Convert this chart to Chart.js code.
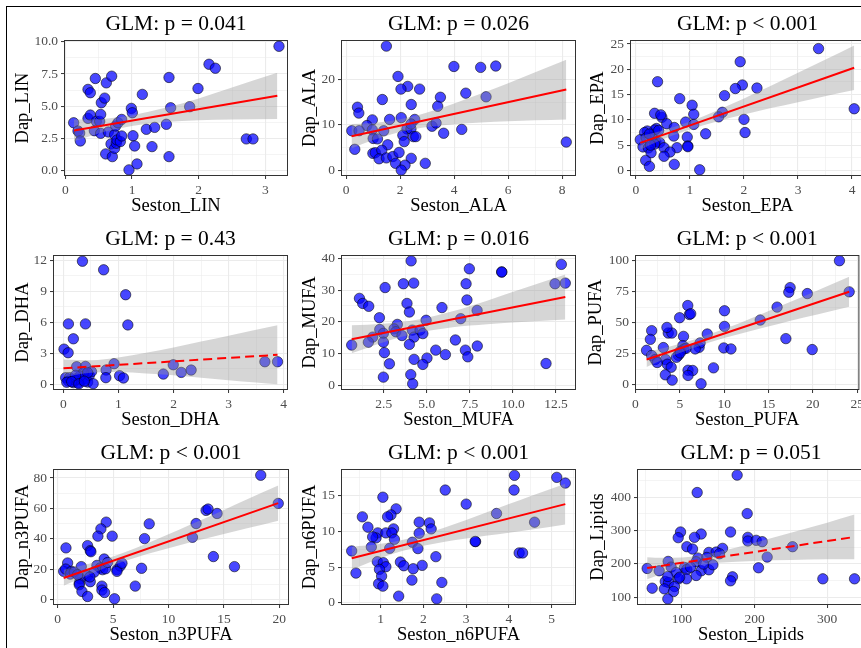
<!DOCTYPE html>
<html>
<head>
<meta charset="utf-8">
<script src="https://cdn.jsdelivr.net/npm/chart.js@4.4.0/dist/chart.umd.min.js"></script>
<style>
  html, body { margin: 0; padding: 0; background: #fff; overflow: hidden; }
  body { width: 861px; height: 648px; position: relative; }
  canvas { position: absolute; }
  #frame { position: absolute; left: 6px; top: 6px; width: 900px; height: 700px;
           border-left: 1.5px solid #000; border-top: 1px solid #000; }
</style>
</head>
<body>
<div id="frame"></div>
<script>
// points: [seston, daphnia]
const linPts = [[0.125,3.70],[0.19,3.06],[0.215,2.90],[0.225,2.28],[0.34,4.04],[0.375,4.30],[0.34,6.30],[0.375,6.04],[0.45,7.15],[0.435,3.08],[0.465,3.81],[0.515,3.81],[0.53,4.35],[0.54,5.26],[0.59,5.62],[0.53,2.88],[0.605,1.27],[0.615,6.81],[0.645,2.98],[0.695,7.33],[0.685,2.05],[0.705,1.06],[0.74,1.71],[0.74,2.77],[0.755,3.45],[0.765,2.10],[0.775,2.36],[0.79,3.70],[0.825,2.23],[0.845,3.96],[0.845,2.67],[0.99,4.82],[1.005,4.48],[1.015,2.69],[1.04,1.89],[0.955,0.03],[1.075,0.49],[1.155,5.91],[1.215,3.19],[1.34,3.34],[1.30,1.84],[1.515,3.58],[1.555,7.23],[1.58,4.87],[1.555,1.06],[1.865,4.95],[1.99,6.37],[2.155,8.26],[2.25,7.95],[2.715,2.44],[2.815,2.44],[3.205,9.66]];
const alaPts = [[1.49,27.4],[3.99,22.9],[4.98,22.7],[5.54,23.0],[1.92,20.7],[2.28,18.5],[2.03,17.9],[2.72,17.9],[4.43,17.0],[3.49,16.1],[5.18,16.2],[1.34,15.6],[2.41,14.5],[3.39,14.1],[0.42,13.9],[0.47,12.6],[0.97,11.1],[1.61,11.2],[2.04,11.6],[2.54,11.2],[0.77,9.85],[0.97,8.9],[0.21,8.7],[0.48,8.7],[1.39,8.7],[2.25,9.1],[2.40,9.1],[2.40,10.2],[3.18,9.7],[3.33,10.4],[4.28,9.0],[3.61,8.15],[1.0,7.0],[1.16,6.9],[2.1,7.7],[2.15,6.3],[2.49,7.4],[2.58,7.4],[8.15,6.2],[0.32,4.6],[1.54,5.6],[0.99,3.7],[1.08,3.85],[1.32,4.4],[1.22,2.5],[1.49,2.7],[1.73,3.0],[1.96,3.9],[2.41,2.6],[1.83,1.5],[2.18,1.1],[2.93,1.5],[2.04,0.0]];
const epaPts = [[3.38,24.1],[1.93,21.5],[1.97,16.9],[2.24,16.3],[1.84,16.2],[1.64,14.8],[0.40,17.55],[0.81,14.2],[1.04,12.9],[4.04,12.2],[0.345,11.3],[0.48,10.5],[0.46,11.0],[1.07,11.1],[1.6,11.5],[1.53,10.6],[2.0,10.1],[0.57,9.24],[0.92,9.57],[1.07,9.1],[0.71,8.5],[0.38,8.3],[0.345,8.0],[0.21,7.8],[0.16,7.5],[0.30,6.5],[0.08,6.1],[0.19,6.45],[0.70,6.8],[0.95,6.6],[1.29,7.25],[2.02,7.5],[0.37,5.65],[0.44,5.5],[0.345,5.2],[0.13,4.65],[0.23,4.45],[0.28,3.5],[0.52,4.5],[0.76,4.5],[0.96,4.85],[0.96,4.7],[0.63,3.65],[0.52,2.8],[0.18,2.0],[0.25,0.8],[0.71,1.2],[1.18,0.13],[0.25,7.2],[0.42,7.9],[0.27,5.0]];
const dhaPts = [[0.345,11.9],[0.73,11.07],[1.13,8.66],[0.09,5.84],[0.40,5.84],[1.17,5.74],[0.18,4.4],[0.01,3.4],[0.085,3.05],[0.24,1.7],[0.40,1.73],[0.92,1.99],[0.775,1.38],[0.77,0.64],[1.02,0.83],[1.09,0.61],[1.815,0.99],[1.995,1.89],[2.14,1.15],[2.32,1.38],[3.66,2.18],[3.89,2.18],[0.04,0.64],[0.09,0.32],[0.13,0.48],[0.18,0.16],[0.23,0.55],[0.27,0.16],[0.33,0.42],[0.41,0.55],[0.44,0.22],[0.47,0.87],[0.51,1.22],[0.54,0.06],[0.36,1.12],[0.30,0.8],[0.21,0.39],[0.44,1.12],[0.11,0.64],[0.22,0.87],[0.06,0.2],[0.15,0.25],[0.28,0.05],[0.38,0.3]];
const mufaPts = [[4.09,39.2],[7.47,36.7],[9.35,35.7],[9.35,35.7],[12.81,38.1],[12.44,32.0],[13.04,32.2],[2.58,30.8],[3.64,32.0],[4.24,32.2],[7.28,32.0],[7.33,26.9],[1.09,27.4],[1.28,25.8],[1.63,24.9],[3.85,25.8],[3.99,23.1],[5.88,24.5],[7.92,23.6],[2.25,21.3],[3.29,19.2],[2.27,17.6],[3.10,17.8],[3.2,16.9],[2.48,16.4],[1.86,15.2],[1.61,13.6],[2.48,13.6],[3.56,15.7],[4.16,17.4],[4.26,15.2],[4.61,17.4],[4.77,16.3],[4.96,20.5],[6.97,21.0],[0.64,12.7],[3.99,12.9],[6.66,14.3],[7.93,12.4],[2.54,10.3],[5.52,11.1],[6.08,9.7],[7.24,11.1],[7.38,9.0],[4.26,8.2],[5.01,8.6],[2.83,6.8],[4.77,6.6],[11.92,6.9],[2.48,2.6],[4.07,3.4],[4.18,0.5]];
const pufaPts = [[23.0,99.7],[24.1,74.7],[17.44,78.1],[17.29,74.4],[19.38,73.3],[15.97,62.4],[14.07,52.0],[16.96,37.1],[19.93,28.3],[10.04,59.5],[10.04,46.9],[9.96,29.6],[10.77,28.8],[8.1,40.8],[8.8,13.6],[5.9,63.7],[6.08,56.5],[6.23,57.1],[4.98,53.9],[5.42,38.9],[5.35,31.5],[5.46,28.8],[5.05,26.9],[4.84,23.7],[4.62,22.1],[3.70,41.6],[4.10,41.6],[3.55,46.1],[3.15,29.9],[3.4,20.3],[3.59,16.5],[4.03,14.1],[3.37,8.0],[4.14,3.7],[1.83,43.5],[1.68,36.5],[1.25,27.7],[1.83,23.5],[2.23,20.3],[2.45,17.9],[5.93,11.7],[6.45,11.5],[5.93,7.5],[7.18,30.1],[7.29,33.6],[6.74,28.8],[5.71,29.3],[7.4,0.8],[5.05,25.6]];
const n3Pts = [[18.32,81.8],[19.9,63.3],[13.39,58.7],[13.57,59.6],[14.38,56.7],[12.49,50.1],[8.26,49.9],[12.16,41.1],[7.84,40.2],[14.05,28.4],[15.95,21.8],[7.57,20.7],[7.0,9.0],[4.38,51.0],[3.90,46.6],[4.92,41.8],[3.63,41.8],[2.70,35.6],[2.94,32.3],[3.0,31.6],[0.75,34.1],[0.9,24.2],[0.54,18.7],[0.72,20.2],[2.13,21.8],[4.2,26.8],[3.54,22.6],[3.84,20.9],[4.05,19.8],[4.32,20.4],[5.35,19.8],[5.65,22.2],[5.35,18.7],[1.23,18.7],[1.14,16.9],[1.5,18.2],[2.04,13.8],[1.95,11.0],[1.95,9.9],[2.7,15.8],[2.94,11.9],[2.19,5.5],[2.70,2.2],[3.99,9.0],[3.99,6.4],[4.23,4.8],[5.13,0.7],[3.3,18.2],[1.8,16.5],[4.5,24.5],[5.8,24.0],[2.9,15.0]];
const n6Pts = [[4.13,17.86],[5.12,17.58],[5.32,16.78],[4.12,15.8],[2.51,15.8],[1.05,14.8],[3.0,13.83],[1.36,13.17],[1.24,12.33],[1.16,12.05],[0.57,12.05],[3.71,12.52],[0.70,10.6],[1.90,11.3],[2.14,11.2],[2.18,10.36],[1.30,10.36],[4.60,11.3],[1.90,9.75],[0.93,9.8],[1.12,9.8],[1.26,9.8],[0.89,9.1],[0.81,9.24],[1.32,8.9],[1.74,8.49],[0.78,7.83],[1.21,7.64],[1.87,7.6],[3.22,8.58],[3.21,8.6],[0.32,7.27],[4.24,6.99],[4.32,6.99],[2.29,6.47],[0.92,5.77],[1.06,5.63],[1.46,5.72],[1.54,5.2],[1.97,5.25],[1.76,4.78],[1.12,5.06],[0.97,4.69],[0.42,4.17],[1.02,3.75],[1.73,3.19],[0.95,2.67],[1.05,2.34],[2.43,2.86],[1.42,0.94],[2.31,0.56]];
const lipPts = [[176.1,466.2],[121.1,414.0],[189.9,350.8],[167.0,295.6],[98.2,295.6],[95,278.6],[126.6,289.6],[117.4,279.6],[190.8,279.6],[190.8,268.6],[202.3,270.6],[210.6,266.5],[106.9,251.5],[114.7,244.5],[156.0,246.5],[252.3,251.5],[137.2,234.4],[147.2,235.4],[151.8,230.4],[217.4,220.4],[122.0,217.4],[134.4,219.4],[119.7,206.4],[81.2,207.4],[52.3,186.3],[68.8,179.3],[85.3,190.3],[103.7,189.3],[106.9,183.3],[92.2,174.2],[126.6,179.3],[137.2,182.3],[142.7,197.3],[129.8,199.3],[106.4,155.2],[119.7,165.2],[95.4,155.2],[205.5,188.3],[169.7,161.2],[167.0,149.2],[294.0,155.2],[337.6,155.2],[77.2,147.2],[81.7,144.1],[75.9,125.1],[59.2,127.1],[89.9,132.1],[88.5,117.1],[80.7,95.0],[80.7,162.2],[97,160],[112,190]];

// fitted lines and confidence bands
const linFitX = [0.13, 3.18], linFitY = [3.1, 5.8];
const linBandX = [0.13, 0.6, 1.0, 1.5, 2.0, 2.5, 3.18];
const linBandLo = [2.25, 3.02, 3.45, 3.76, 3.9, 3.95, 4.0];
const linBandHi = [3.95, 4.02, 4.29, 4.86, 5.6, 6.45, 7.6];

const alaFitX = [0.2, 8.15], alaFitY = [7.5, 17.8];
const alaBandX = [0.2, 1, 2, 3, 4, 5, 6, 7, 8.15];
const alaBandLo = [4.8, 6.63, 8.43, 9.52, 10.12, 10.52, 10.81, 11.01, 11.2];
const alaBandHi = [10.2, 10.43, 11.23, 12.72, 14.72, 16.92, 19.21, 21.61, 24.4];

const epaFitX = [0.08, 4.04], epaFitY = [5.45, 20.3];
const epaBandX = [0.08, 0.5, 1, 1.5, 2, 2.5, 3, 3.5, 4.04];
const epaBandLo = [4.15, 6.18, 8.1, 9.68, 11.05, 12.33, 13.5, 14.68, 15.9];
const epaBandHi = [6.75, 7.88, 9.7, 11.88, 14.25, 16.73, 19.3, 21.88, 24.7];

const dhaFitX = [0.0, 3.89], dhaFitY = [1.55, 2.85];
const dhaBandX = [0, 0.5, 1, 1.5, 2, 2.5, 3, 3.5, 3.89];
const dhaBandLo = [0.7, 1.12, 1.18, 1.05, 0.87, 0.64, 0.4, 0.17, 0.0];
const dhaBandHi = [2.4, 2.32, 2.58, 3.05, 3.57, 4.14, 4.7, 5.27, 5.7];

const mufaFitX = [0.64, 13.04], mufaFitY = [14.5, 27.8];
const mufaBandX = [0.64, 2.5, 4.5, 6.5, 8.5, 10.5, 13.04];
const mufaBandLo = [10.1, 13.6, 16.56, 18.32, 19.27, 19.93, 20.72];
const mufaBandHi = [18.9, 19.4, 20.76, 23.32, 26.67, 30.33, 34.92];

const pufaFitX = [1.25, 24.1], pufaFitY = [20.3, 74.75];
const pufaBandX = [1.25, 4, 7, 10, 13, 16, 19, 22, 24.1];
const pufaBandLo = [14.3, 22.9, 30.8, 37.55, 43.3, 48.7, 54.0, 59.15, 62.75];
const pufaBandHi = [26.3, 30.9, 37.2, 44.75, 53.3, 62.3, 71.2, 80.35, 86.75];

const n3FitX = [0.54, 19.9], n3FitY = [14.3, 63.5];
const n3BandX = [0.54, 3, 5, 7, 9, 11, 13, 15, 17, 19.9];
const n3BandLo = [9.3, 17.2, 22.9, 27.7, 31.9, 35.8, 39.55, 43.25, 46.85, 52.0];
const n3BandHi = [19.7, 24.0, 28.5, 33.9, 39.9, 46.2, 52.55, 59.05, 65.65, 75.0];

const n6FitX = [0.32, 5.32], n6FitY = [6.24, 13.83];
const n6BandX = [0.32, 1, 1.5, 2, 2.5, 3, 3.5, 4, 4.5, 5.32];
const n6BandLo = [4.64, 6.27, 7.25, 7.99, 8.55, 9.01, 9.42, 9.83, 10.24, 10.98];
const n6BandHi = [7.84, 8.27, 8.81, 9.59, 10.55, 11.61, 12.72, 13.83, 14.94, 16.68];

const lipFitX = [52.3, 337.6], lipFitY = [187.7, 280.8];
const lipBandX = [52.3, 75, 100, 125, 150, 200, 250, 300, 337.6];
const lipBandLo = [154, 172.2, 187.3, 197.5, 203.7, 209.0, 211.3, 213.7, 213.7];
const lipBandHi = [220, 218.2, 219.3, 225.5, 235.7, 263.0, 293.3, 323.7, 347.7];

// tick values and labels
const linXTicks = [0, 1, 2, 3], linYTicks = [0, 2.5, 5, 7.5, 10];
const linYLabels = ["0.0", "2.5", "5.0", "7.5", "10.0"];
const alaXTicks = [0, 2, 4, 6, 8], alaYTicks = [0, 10, 20];
const epaXTicks = [0, 1, 2, 3, 4], epaYTicks = [0, 5, 10, 15, 20, 25];
const dhaXTicks = [0, 1, 2, 3, 4], dhaYTicks = [0, 3, 6, 9, 12];
const mufaXTicks = [2.5, 5, 7.5, 10, 12.5], mufaYTicks = [0, 10, 20, 30, 40];
const mufaXLabels = ["2.5", "5.0", "7.5", "10.0", "12.5"];
const pufaXTicks = [0, 5, 10, 15, 20, 25], pufaYTicks = [0, 25, 50, 75, 100];
const n3XTicks = [0, 5, 10, 15, 20], n3YTicks = [0, 20, 40, 60, 80];
const n6XTicks = [1, 2, 3, 4, 5], n6YTicks = [0, 5, 10, 15];
const lipXTicks = [100, 200, 300], lipYTicks = [100, 200, 300, 400];

const SERIF = "'Liberation Serif', 'Times New Roman', serif";

const panels = [
  { title: "GLM: p = 0.041", xName: "Seston_LIN", yName: "Dap_LIN", pts: linPts,
    fitX: linFitX, fitY: linFitY, bandX: linBandX, lo: linBandLo, hi: linBandHi,
    xTicks: linXTicks, yTicks: linYTicks, yLabels: linYLabels,
    box: [64, 40, 288, 176], yOff: 40.5, xr: [-0.02, 3.34], yr: [-0.45, 10.15] },
  { title: "GLM: p = 0.026", xName: "Seston_ALA", yName: "Dap_ALA", pts: alaPts,
    fitX: alaFitX, fitY: alaFitY, bandX: alaBandX, lo: alaBandLo, hi: alaBandHi,
    xTicks: alaXTicks, yTicks: alaYTicks,
    box: [341, 40, 576, 176], yOff: 30.5, xr: [-0.19, 8.51], yr: [-1.3, 28.75] },
  { title: "GLM: p < 0.001", xName: "Seston_EPA", yName: "Dap_EPA", pts: epaPts,
    fitX: epaFitX, fitY: epaFitY, bandX: epaBandX, lo: epaBandLo, hi: epaBandHi,
    xTicks: epaXTicks, yTicks: epaYTicks,
    box: [630, 40, 865, 176], yOff: 31.5, xr: [-0.11, 4.24], yr: [-1.1, 25.8] },
  { title: "GLM: p = 0.43", xName: "Seston_DHA", yName: "Dap_DHA", pts: dhaPts, dashed: true,
    fitX: dhaFitX, fitY: dhaFitY, bandX: dhaBandX, lo: dhaBandLo, hi: dhaBandHi,
    xTicks: dhaXTicks, yTicks: dhaYTicks,
    box: [53, 255, 288, 390], yOff: 30, xr: [-0.19, 4.08], yr: [-0.55, 12.5] },
  { title: "GLM: p = 0.016", xName: "Seston_MUFA", yName: "Dap_MUFA", pts: mufaPts,
    fitX: mufaFitX, fitY: mufaFitY, bandX: mufaBandX, lo: mufaBandLo, hi: mufaBandHi,
    xTicks: mufaXTicks, yTicks: mufaYTicks, xLabels: mufaXLabels,
    box: [341, 255, 576, 390], yOff: 30.5, xr: [0.02, 13.66], yr: [-1.45, 41.05] },
  { title: "GLM: p < 0.001", xName: "Seston_PUFA", yName: "Dap_PUFA", pts: pufaPts,
    fitX: pufaFitX, fitY: pufaFitY, bandX: pufaBandX, lo: pufaBandLo, hi: pufaBandHi,
    xTicks: pufaXTicks, yTicks: pufaYTicks,
    box: [635, 255, 865, 390], yOff: 38.5, xr: [-0.05, 25.25], yr: [-4.2, 104.3] },
  { title: "GLM: p < 0.001", xName: "Seston_n3PUFA", yName: "Dap_n3PUFA", pts: n3Pts,
    fitX: n3FitX, fitY: n3FitY, bandX: n3BandX, lo: n3BandLo, hi: n3BandHi,
    xTicks: n3XTicks, yTicks: n3YTicks,
    box: [53, 469, 289, 605], yOff: 30, xr: [-0.42, 20.87], yr: [-3.4, 85.9] },
  { title: "GLM: p < 0.001", xName: "Seston_n6PUFA", yName: "Dap_n6PUFA", pts: n6Pts,
    fitX: n6FitX, fitY: n6FitY, bandX: n6BandX, lo: n6BandLo, hi: n6BandHi,
    xTicks: n6XTicks, yTicks: n6YTicks,
    box: [341, 469, 576, 605], yOff: 30.5, xr: [0.07, 5.57], yr: [-0.3, 18.75] },
  { title: "GLM: p = 0.051", xName: "Seston_Lipids", yName: "Dap_Lipids", pts: lipPts, dashed: true,
    fitX: lipFitX, fitY: lipFitY, bandX: lipBandX, lo: lipBandLo, hi: lipBandHi,
    xTicks: lipXTicks, yTicks: lipYTicks,
    box: [637, 469, 865, 605], yOff: 39, xr: [38.3, 352], yr: [76.7, 484.5] },
];

const TITLE_H = 29, XAXIS_H = 41;

// full grey box round the plot area, drawn over the data like ggplot does
const panelBorder = {
  id: "panelBorder",
  afterDatasetsDraw(chart) {
    const a = chart.chartArea, ctx = chart.ctx;
    ctx.save();
    ctx.strokeStyle = "#333333";
    ctx.lineWidth = 1;
    ctx.strokeRect(a.left + 0.5, a.top + 0.5, a.right - a.left - 1, a.bottom - a.top - 1);
    ctx.restore();
  }
};

function minorTicks(major, range) {
  const step = major[1] - major[0];
  const out = [];
  for (let i = -1; i < major.length + 1; i++) {
    const v = major[0] + step * (i + 0.5);
    if (v >= range[0] && v <= range[1]) out.push(v);
  }
  return out;
}

function axis(ticks, labels, range, name, isX, width) {
  const all = ticks.concat(minorTicks(ticks, range)).sort((a, b) => a - b);
  const idx = v => ticks.findIndex(t => Math.abs(t - v) < 1e-9);
  const major = c => c.tick && idx(c.tick.value) >= 0;
  return {
    type: "linear",
    min: range[0],
    max: range[1],
    afterBuildTicks: s => { s.ticks = all.map(v => ({ value: v })); },
    afterFit: s => { if (isX) s.height = XAXIS_H; else s.width = width; },
    border: { display: false },
    grid: {
      color: "#EBEBEB",
      lineWidth: c => major(c) ? 1.1 : 0.55,
      drawTicks: true,
      tickLength: 3,
      tickWidth: 1,
      tickColor: c => major(c) ? "#333333" : "rgba(0,0,0,0)",
    },
    ticks: {
      autoSkip: false,
      maxRotation: 0,
      padding: 3,
      color: "#4D4D4D",
      font: { family: SERIF, size: 13.5 },
      callback: v => {
        const i = idx(v);
        if (i < 0) return "";
        return labels ? labels[i] : String(ticks[i]);
      },
    },
    title: {
      display: true,
      text: name,
      color: "#000000",
      font: { family: SERIF, size: 18.5, lineHeight: 1.2 },
      padding: 0,
    },
  };
}

function makePanel(p) {
  const [l, t, r, b] = p.box;
  const W = Math.round(p.yOff + 11);
  const cw = W + (r - l) + 2;
  const ch = TITLE_H + (b - t) + XAXIS_H;
  const cv = document.createElement("canvas");
  cv.width = cw;
  cv.height = ch;
  cv.style.left = (l - W) + "px";
  cv.style.top = (t - TITLE_H) + "px";
  cv.style.width = cw + "px";
  cv.style.height = ch + "px";
  document.body.appendChild(cv);

  const toXY = (xs, ys) => xs.map((x, i) => ({ x: x, y: ys[i] }));

  new Chart(cv, {
    type: "scatter",
    data: {
      datasets: [
        {
          type: "line",
          data: toXY(p.bandX, p.hi),
          fill: "+1",
          backgroundColor: "rgba(153,153,153,0.4)",
          borderWidth: 0,
          pointRadius: 0,
          cubicInterpolationMode: "monotone",
          order: 2,
        },
        {
          type: "line",
          data: toXY(p.bandX, p.lo),
          fill: false,
          borderWidth: 0,
          pointRadius: 0,
          cubicInterpolationMode: "monotone",
          order: 2,
        },
        {
          type: "line",
          data: toXY(p.fitX, p.fitY),
          borderColor: "#FF0000",
          borderWidth: 2,
          borderDash: p.dashed ? [9, 5] : [],
          pointRadius: 0,
          fill: false,
          order: 1,
        },
        {
          type: "scatter",
          data: p.pts.map(d => ({ x: d[0], y: d[1] })),
          pointRadius: 5.2,
          backgroundColor: "rgba(0,0,255,0.72)",
          borderColor: "rgba(0,0,0,0.7)",
          borderWidth: 0.8,
          order: 3,
        },
      ],
    },
    options: {
      responsive: false,
      animation: false,
      events: [],
      layout: { autoPadding: false, padding: { left: 0, top: 0, right: 2, bottom: 0 } },
      plugins: {
        legend: { display: false },
        tooltip: { enabled: false },
        title: {
          display: true,
          text: p.title,
          fullSize: false,
          color: "#000000",
          font: { family: SERIF, size: 21.5, weight: "normal", lineHeight: 1.2 },
          padding: { top: 0, bottom: 3.2 },
        },
      },
      scales: {
        x: axis(p.xTicks, p.xLabels, p.xr, p.xName, true, W),
        y: axis(p.yTicks, p.yLabels, p.yr, p.yName, false, W),
      },
    },
    plugins: [panelBorder],
  });
}

panels.forEach(makePanel);
</script>
</body>
</html>
